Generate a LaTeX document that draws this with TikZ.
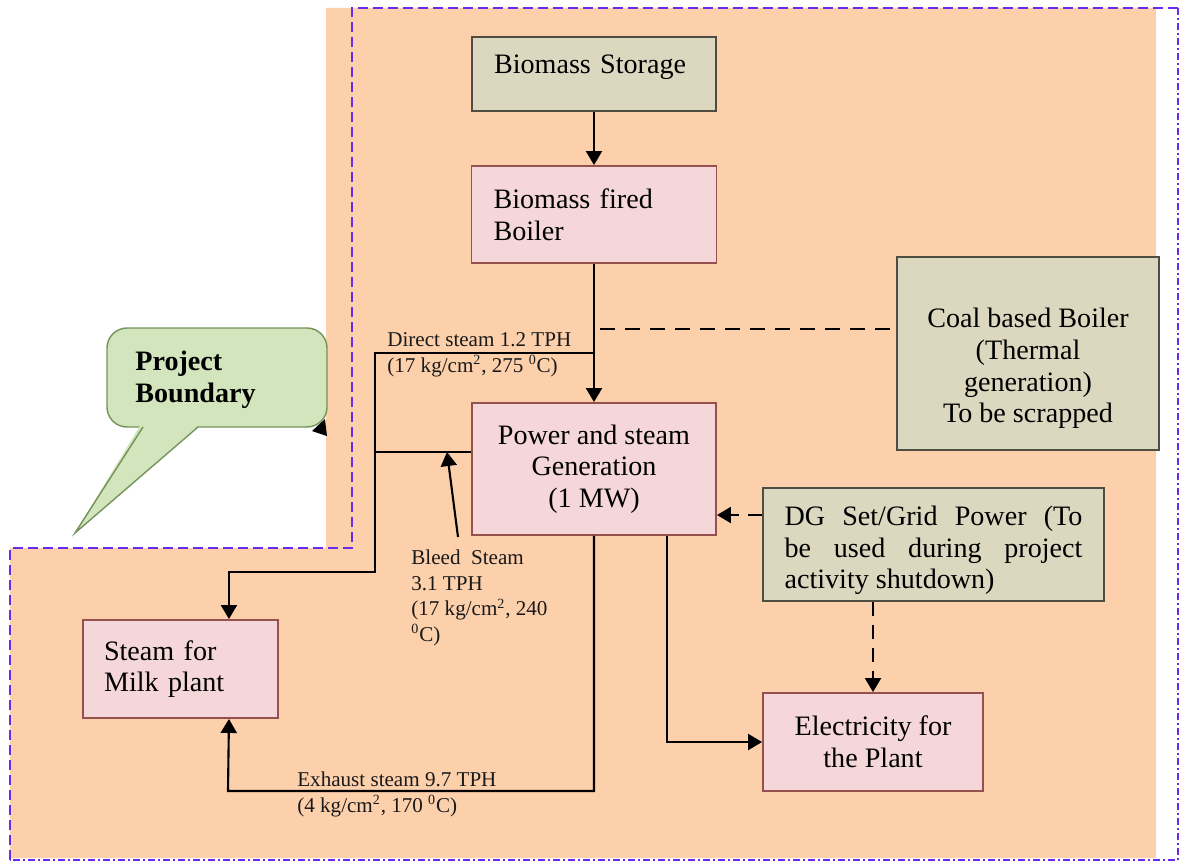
\documentclass[tikz,border=0pt]{standalone}
\usepackage{fontspec}
\setmainfont{Liberation Serif}
\usetikzlibrary{arrows.meta}
\hyphenpenalty=10000
\exhyphenpenalty=10000

\definecolor{peach}{HTML}{FDD0AC}
\definecolor{bound}{HTML}{6A2BF0}
\definecolor{boxfill}{HTML}{F5D7D9}
\definecolor{boxedge}{HTML}{955050}
\definecolor{tanfill}{HTML}{DCD8C0}
\definecolor{tanedge}{HTML}{4D4D42}
\definecolor{greenfill}{HTML}{D2E5BD}
\definecolor{greenedge}{HTML}{74935A}

\begin{document}
\begin{tikzpicture}[x=0.02cm, y=-0.02cm,
    pinkbox/.style={draw=boxedge, fill=boxfill, line width=1.1pt, inner sep=0pt, font=\fontsize{16}{18}\selectfont},
    tanbox/.style={draw=tanedge, fill=tanfill, line width=1.1pt, inner sep=0pt, font=\fontsize{16}{18}\selectfont},
    pipe/.style={line width=1.2pt},
    flow/.style={pipe, -{Triangle[width=0.32cm, length=0.28cm]}},
    dashflow/.style={flow, dash pattern=on 0.28cm off 0.18cm},
    dashline/.style={line width=1.5pt, dash pattern=on 0.3cm off 0.2cm},
    note/.style={inner sep=0pt, font=\fontsize{12}{14.5}\selectfont, text=black!90}]
    \useasboundingbox (0,0) rectangle (1182,865);

    % project area and its boundary
    \fill[peach] (326,8) -- (1156,8) -- (1156,858) -- (10,858) -- (10,548) -- (326,548) -- cycle;
    \draw[bound, line width=1.1pt, dash pattern=on 0.2cm off 0.1cm] (10,860) -- (10,548) -- (352,548) -- (352,8) -- (1178,8);
    \draw[bound, line width=1.1pt, dash pattern=on 0.14cm off 0.06cm on 0.04cm off 0.06cm] (1178,8) -- (1178,860) -- (10,860);

    % callout
    \draw[greenedge, fill=greenfill, line width=0.8pt, rounded corners=0.4cm] (107,328) rectangle (327,427);
    \fill[greenfill] (141,424) -- (75,533) -- (200,424) -- cycle;
    \draw[greenedge, line width=0.8pt] (143,427) -- (75,533) -- (198,427);
    \fill (325,419) -- (312,431) -- (327,436) -- cycle;
    \node[anchor=north west, inner sep=0pt, align=left, font=\fontsize{16}{18}\selectfont\bfseries] (12) at (135,351) {Project\\Boundary};

    % boxes
    \node[tanbox, minimum width=4.88cm, minimum height=1.48cm, text width=4.0cm, align=left, text depth=0.38cm] (0) at (594,74) {Biomass Storage};
    \node[pinkbox, minimum width=4.9cm, minimum height=1.94cm, text width=4.02cm, align=left] (1) at (594,214.5) {Biomass fired\\Boiler};
    \node[pinkbox, minimum width=4.88cm, minimum height=2.64cm, align=center] (2) at (594,469) {Power and steam\\Generation\\(1 MW)};
    \node[tanbox, minimum width=5.24cm, minimum height=3.86cm, align=center] (3) at (1028,353.5) {\rule{0pt}{0.99cm}Coal based Boiler\\(Thermal\\generation)\\To be scrapped};
    \node[tanbox, minimum width=6.82cm, minimum height=2.26cm, text width=5.96cm, align=justify] (4) at (933.5,544.5) {\rule{0pt}{0.63cm}DG Set/Grid Power (To be used during project activity shutdown)};
    \node[pinkbox, minimum width=3.9cm, minimum height=1.96cm, text width=3.06cm, align=left] (5) at (180.5,669) {Steam for\\Milk plant};
    \node[pinkbox, minimum width=4.4cm, minimum height=1.96cm, align=center] (6) at (873,742) {Electricity for\\the Plant};

    % connectors
    \coordinate (j1) at (594,353);
    \coordinate (j2) at (375,572);
    \coordinate (j3) at (375,452);
    \coordinate (j4) at (600,329);
    \coordinate (j5) at (228,791);
    \coordinate (b0) at (458,537);
    \coordinate (b1) at (447,452);
    \draw[flow] (0) -- (1);
    \draw[flow] (1) -- (2);
    \draw[flow] (j1) -| (j2) -| ([xshift=-1cm]5.north east);
    \draw[pipe] (j3) -- (j3 -| 2.west);
    \draw[flow] (b0) -- (b1);
    \draw[dashline] (j4) -- (j4 -| 3.west);
    \draw[dashflow] ([yshift=0.59cm]4.west) -- ([yshift=0.59cm]4.west -| 2.east);
    \draw[dashflow] (6.north |- 4.south) -- (6.north);
    \draw[flow] (2.south) |- (j5) -- ([xshift=-1cm]5.south east);
    \draw[flow] ([xshift=-1cm]2.south east) |- (6.west);

    % steam labels
    \node[note, anchor=base west] (7) at (387,346) {Direct steam 1.2 TPH};
    \node[note, anchor=base west] (8) at (387,372) {(17 kg/cm\textsuperscript{2}, 275 \textsuperscript{0}C)};
    \node[note, anchor=north west, align=left] (9) at (411,550) {Bleed\ \ Steam\\3.1 TPH\\(17 kg/cm\textsuperscript{2}, 240\\\textsuperscript{0}C)};
    \node[note, anchor=base west] (10) at (297,786) {Exhaust steam 9.7 TPH};
    \node[note, anchor=base west] (11) at (297,812) {(4 kg/cm\textsuperscript{2}, 170 \textsuperscript{0}C)};
\end{tikzpicture}
\end{document}
